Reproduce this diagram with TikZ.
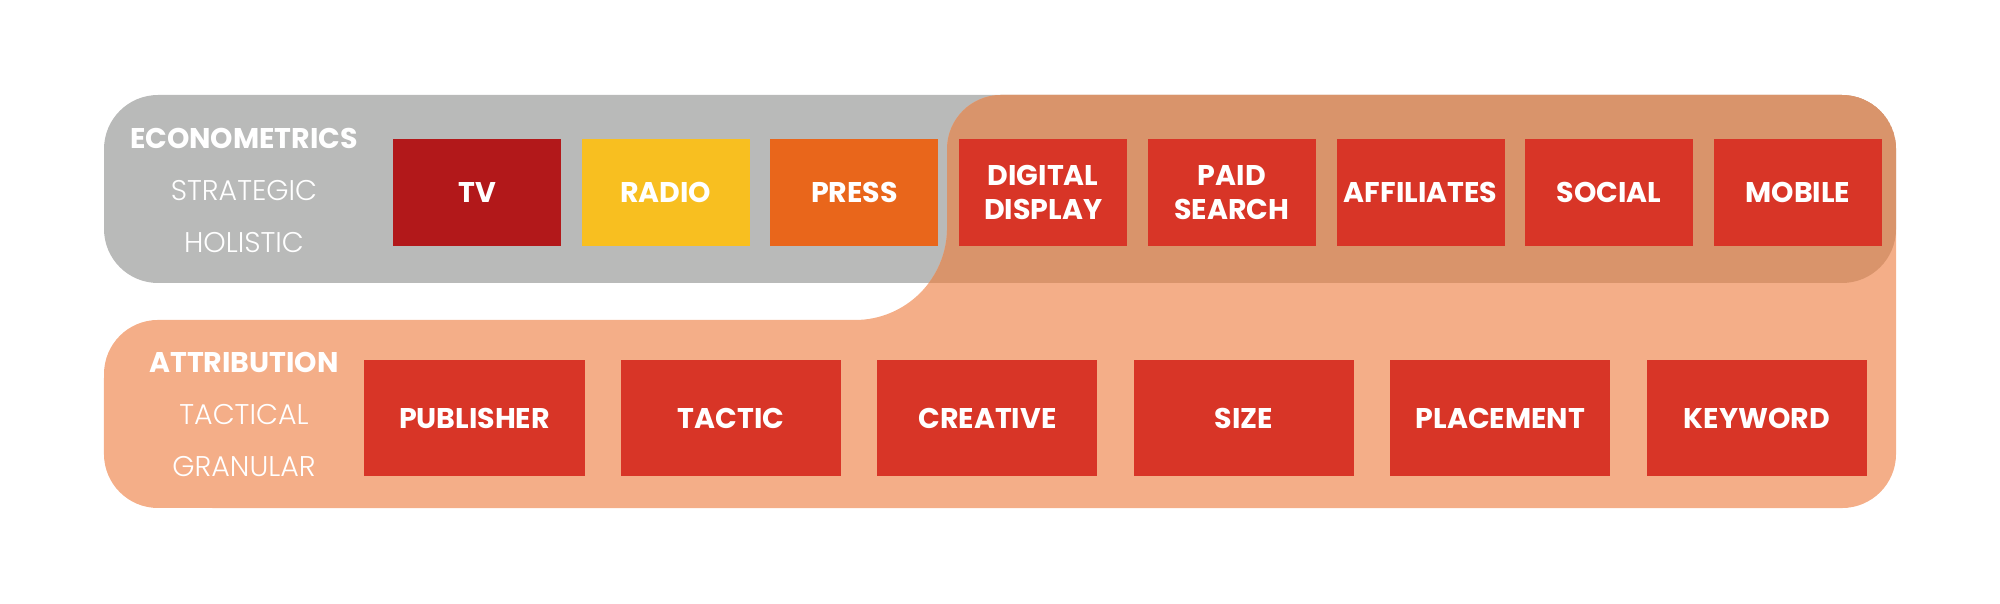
\documentclass[tikz,border=0pt]{standalone}
\usepackage{fontspec}
\usepackage{tikz}
\usetikzlibrary{positioning}
\newfontfamily\headfont{Poppins}
\newfontfamily\thinfont{Poppins Light}
\definecolor{ecogray}{HTML}{B9BAB9}
\definecolor{attrorange}{HTML}{F4AE88}
\definecolor{overlaporange}{HTML}{D9946B}
\definecolor{tvred}{HTML}{B2181A}
\definecolor{radioyellow}{HTML}{F8BF20}
\definecolor{pressorange}{HTML}{E9661B}
\definecolor{digired}{HTML}{D83527}
\newcommand{\attrshape}{(1001,508) -- (1842,508) arc[start angle=90, end angle=0, radius=0.54cm]
  -- (1896,149) arc[start angle=0, end angle=-90, radius=0.54cm]
  -- (158,95) arc[start angle=270, end angle=180, radius=0.54cm]
  -- (104,229) arc[start angle=180, end angle=90, radius=0.54cm]
  -- (855,283) arc[start angle=-90, end angle=0, radius=0.92cm]
  -- (947,454) arc[start angle=180, end angle=90, radius=0.54cm] -- cycle}
\tikzset{
  channel/.style={minimum width=1.68cm, minimum height=1.07cm, inner sep=0pt, text=white, align=center,
    font=\headfont\bfseries\fontsize{8.1}{9.5}\selectfont},
  lever/.style={minimum width=2.2cm, minimum height=1.16cm, inner sep=0pt, fill=digired, text=white,
    font=\headfont\bfseries\fontsize{8.1}{9.5}\selectfont},
  headlabel/.style={anchor=base, text=white, inner sep=0pt, font=\headfont\bfseries\fontsize{8.1}{9.5}\selectfont},
  sublabel/.style={anchor=base, text=white, inner sep=0pt, font=\thinfont\fontsize{8.1}{9.5}\selectfont}
}
\begin{document}
\begin{tikzpicture}[x=0.01cm, y=0.01cm, node distance=1.886cm]
		\useasboundingbox (0,0) rectangle (2000,603);
		\fill[ecogray, rounded corners=0.54cm] (104,320) rectangle (1896,508);
		\fill[attrorange] \attrshape;
		\begin{scope}
			\clip[rounded corners=0.54cm] (104,320) rectangle (1896,508);
			\fill[overlaporange] \attrshape;
		\end{scope}
		%% econometrics row
		\node[headlabel] (econ) at (244,454.5) {ECONOMETRICS};
		\node[sublabel] (strat) at (244,402) {STRATEGIC};
		\node[sublabel] (holi) at (244,350) {HOLISTIC};
		\node[channel, fill=tvred] (tv) at (477,410.5) {TV};
		\node[channel, fill=radioyellow, right of=tv] (radio) {RADIO};
		\node[channel, fill=pressorange, right of=radio] (press) {PRESS};
		\node[channel, fill=digired, right of=press] (display) {DIGITAL\\DISPLAY};
		\node[channel, fill=digired, right of=display] (search) {PAID\\SEARCH};
		\node[channel, fill=digired, right of=search] (affil) {AFFILIATES};
		\node[channel, fill=digired, right of=affil] (social) {SOCIAL};
		\node[channel, fill=digired, right of=social] (mobile) {MOBILE};
		%% attribution row
		\node[headlabel] (attr) at (244,230) {ATTRIBUTION};
		\node[sublabel] (tact) at (244,178) {TACTICAL};
		\node[sublabel] (gran) at (244,126) {GRANULAR};
		\node[lever] (publisher) at (474.5,185) {PUBLISHER};
		\node[lever, right of=publisher] [node distance=2.563cm] (tactic) {TACTIC};
		\node[lever, right of=tactic] [node distance=2.563cm] (creative) {CREATIVE};
		\node[lever, right of=creative] [node distance=2.563cm] (size) {SIZE};
		\node[lever, right of=size] [node distance=2.563cm] (placement) {PLACEMENT};
		\node[lever, right of=placement] [node distance=2.563cm] (keyword) {KEYWORD};
	\end{tikzpicture}
\end{document}
